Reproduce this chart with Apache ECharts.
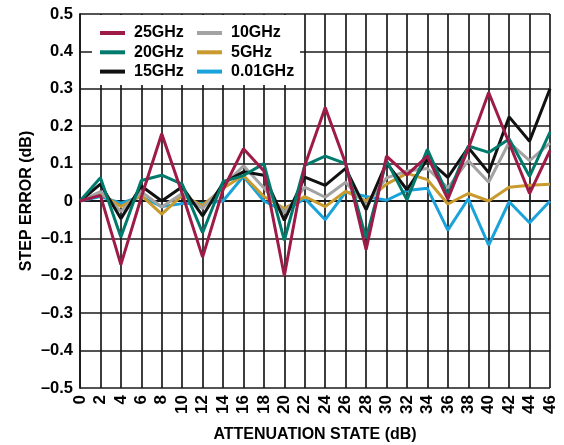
<!DOCTYPE html>
<html>
<head>
<meta charset="utf-8">
<script src="https://cdn.jsdelivr.net/npm/echarts@6/dist/echarts.min.js"></script>
<style>
html,body{margin:0;padding:0;background:#fff;}
#chart{width:564px;height:445px;}
</style>
</head>
<body>
<div id="chart"></div>
<script>
var categories = ['0','2','4','6','8','10','12','14','16','18','20','22','24','26','28','30','32','34','36','38','40','42','44','46'];
var s25GHz  = [0, 0.015, -0.17, 0.01, 0.18, 0.02, -0.15, 0.03, 0.14, 0.08, -0.2, 0.095, 0.25, 0.1, -0.13, 0.12, 0.07, 0.12, 0.005, 0.14, 0.29, 0.155, 0.02, 0.135];
var s20GHz  = [0, 0.062, -0.096, 0.055, 0.069, 0.045, -0.085, 0.052, 0.068, 0.1, -0.105, 0.095, 0.12, 0.1, -0.1, 0.108, 0.003, 0.138, 0.015, 0.147, 0.13, 0.166, 0.066, 0.184];
var s15GHz  = [0, 0.045, -0.047, 0.04, 0.0, 0.038, -0.04, 0.048, 0.078, 0.069, -0.052, 0.064, 0.042, 0.087, -0.023, 0.102, 0.03, 0.112, 0.063, 0.143, 0.076, 0.225, 0.16, 0.3];
var s10GHz  = [0, 0.025, -0.028, 0.025, -0.016, 0.02, -0.02, 0.04, 0.094, 0.035, -0.032, 0.037, 0.01, 0.05, -0.012, 0.062, 0.08, 0.087, 0.035, 0.108, 0.05, 0.157, 0.108, 0.155];
var s5GHz   = [0, 0.02, -0.015, 0.015, -0.035, 0.015, -0.012, 0.034, 0.068, 0.012, -0.02, 0.012, -0.015, 0.026, 0.0, 0.045, 0.074, 0.057, -0.008, 0.02, 0.0, 0.037, 0.042, 0.045];
var s001GHz = [0, 0.012, -0.006, 0.012, -0.015, -0.007, -0.007, 0.0, 0.066, 0.0, -0.028, 0.007, -0.05, 0.024, 0.012, 0.002, 0.028, 0.034, -0.078, 0.006, -0.118, -0.002, -0.058, 0.0];
var yTicks = [-0.5, -0.4, -0.3, -0.2, -0.1, 0, 0.1, 0.2, 0.3, 0.4, 0.5];

var FONT = 'Liberation Sans, Arial, sans-serif';
var chart = echarts.init(document.getElementById('chart'), null, {renderer: 'canvas'});

function mk(name, data, color) {
  return {
    name: name, type: 'line', data: data, symbol: 'none', smooth: false,
    lineStyle: {width: 3, color: color}, itemStyle: {color: color},
    z: 2
  };
}

var legendCommon = {
  orient: 'vertical', padding: 0, itemGap: 3.3, itemWidth: 25, itemHeight: 4,
  icon: 'rect', top: 25,
  textStyle: {fontFamily: FONT, fontWeight: 'bold', fontSize: 16, color: '#000', lineHeight: 16, padding: [0,0,0,4]},
  selectedMode: false, z: 10
};

chart.setOption({
  animation: false,
  backgroundColor: '#fff',
  grid: {left: 80, right: 14, top: 14, bottom: 57, containLabel: false},
  xAxis: {
    type: 'category', data: categories, boundaryGap: false,
    axisLine: {show: true, lineStyle: {color: '#1a1a1a', width: 1.8}},
    axisTick: {show: false},
    axisLabel: {rotate: 90, interval: 0, margin: 7, fontFamily: FONT, fontWeight: 'bold', fontSize: 17, color: '#000'},
    splitLine: {show: true, interval: 0, lineStyle: {color: '#1a1a1a', width: 1.7}}
  },
  yAxis: {
    type: 'value', min: -0.5, max: 0.5, interval: 0.1,
    axisLine: {show: true, lineStyle: {color: '#1a1a1a', width: 1.8}},
    axisTick: {show: false},
    axisLabel: {margin: 7, fontFamily: FONT, fontWeight: 'bold', fontSize: 16.5, color: '#000',
      formatter: function (v) {
        if (Math.abs(v) < 1e-9) return '0';
        return v.toFixed(1).replace('-', '\u2013');
      }},
    splitLine: {show: true, lineStyle: {color: '#1a1a1a', width: 1.7}}
  },
  legend: [
    Object.assign({}, legendCommon, {left: 100, data: ['25GHz', '20GHz', '15GHz']}),
    Object.assign({}, legendCommon, {left: 197, data: ['10GHz', '5GHz', '0.01GHz']})
  ],
  graphic: [
    {type: 'rect', z: 5, shape: {x: 92, y: 15, width: 208, height: 70}, style: {fill: '#fff'}},
    {type: 'text', z: 5, x: 315, y: 435,
      style: {text: 'ATTENUATION STATE (dB)', fontFamily: FONT, fontWeight: 'bold', fontSize: 16, fill: '#000', textAlign: 'center', textVerticalAlign: 'middle'}},
    {type: 'text', z: 5, x: 27, y: 201, rotation: Math.PI / 2,
      style: {text: 'STEP ERROR (dB)', fontFamily: FONT, fontWeight: 'bold', fontSize: 16, fill: '#000', textAlign: 'center', textVerticalAlign: 'middle'}}
  ],
  series: [
    mk('0.01GHz', s001GHz, '#1AA3DA'),
    mk('5GHz', s5GHz, '#C99A2E'),
    mk('10GHz', s10GHz, '#A3A3A3'),
    mk('15GHz', s15GHz, '#111111'),
    mk('20GHz', s20GHz, '#007A6D'),
    mk('25GHz', s25GHz, '#9E1B48')
  ]
});
</script>
</body>
</html>
